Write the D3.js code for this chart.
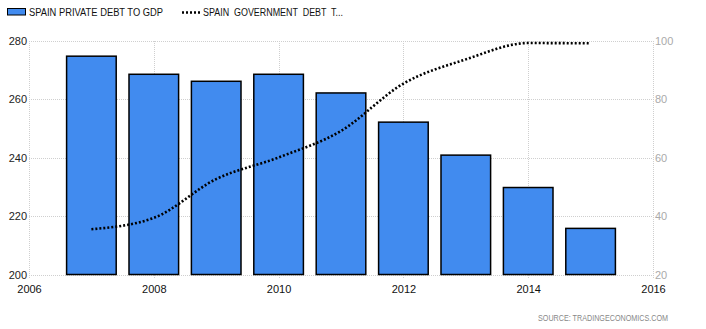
<!DOCTYPE html>
<html>
<head>
<meta charset="utf-8">
<script src="https://cdn.jsdelivr.net/npm/d3@7"></script>
<style>
  html, body { margin: 0; padding: 0; background: #fff; }
  svg { display: block; font-family: "Liberation Sans", Arial, sans-serif; }
</style>
</head>
<body>
<svg id="chart" width="706" height="329"></svg>
<script>
// Spain: private debt vs government debt, % of GDP
const years = [2007, 2008, 2009, 2010, 2011, 2012, 2013, 2014, 2015];
const privateDebt = [274.8, 268.6, 266.2, 268.6, 262.2, 252.2, 240.9, 229.8, 215.8];
const governmentDebt = [35.5, 39.4, 52.7, 60.1, 69.2, 85.4, 93.7, 99.3, 99.2];
const xTicks = [2006, 2008, 2010, 2012, 2014, 2016];
const leftTicks = [200, 220, 240, 260, 280];
const rightTicks = [20, 40, 60, 80, 100];
const legendLabels = ["SPAIN PRIVATE DEBT TO GDP", "SPAIN  GOVERNMENT  DEBT  T..."];
const sourceLabel = "SOURCE: TRADINGECONOMICS.COM";

const svg = d3.select("#chart");
const plot = { left: 29, right: 653, top: 41, bottom: 274.5 };

const x = d3.scaleLinear().domain([2006, 2016]).range([plot.left, plot.right]);
const yL = d3.scaleLinear().domain([200, 280]).range([plot.bottom, plot.top]);
const yR = d3.scaleLinear().domain([20, 100]).range([plot.bottom, plot.top]);

const grid = svg.append("g")
  .attr("stroke", "#cfcfcf").attr("stroke-width", 1).attr("stroke-dasharray", "1,1")
  .attr("shape-rendering", "crispEdges");
grid.selectAll("line.h").data(leftTicks).join("line")
  .attr("x1", plot.left).attr("x2", plot.right)
  .attr("y1", d => Math.round(yL(d)) + 0.5).attr("y2", d => Math.round(yL(d)) + 0.5);
grid.selectAll("line.v").data(xTicks).join("line")
  .attr("x1", d => Math.round(x(d)) + 0.5).attr("x2", d => Math.round(x(d)) + 0.5)
  .attr("y1", plot.top).attr("y2", plot.bottom + 3);

// Bars
const yearStep = x(2007) - x(2006);
const barW = yearStep * 0.795;
svg.append("g").selectAll("rect").data(years).join("rect")
  .attr("x", (d) => x(d) - barW / 2)
  .attr("width", barW)
  .attr("y", (d, i) => yL(privateDebt[i]))
  .attr("height", (d, i) => yL(200) - yL(privateDebt[i]))
  .attr("fill", "#418bef")
  .attr("stroke", "#000")
  .attr("stroke-width", 1.5);

// Government debt line (right axis)
const line = d3.line()
  .x((d, i) => x(years[i]))
  .y(d => yR(d))
  .curve(d3.curveMonotoneX);
svg.append("path")
  .datum(governmentDebt)
  .attr("d", line)
  .attr("fill", "none")
  .attr("stroke", "#000")
  .attr("stroke-width", 2.6)
  .attr("stroke-dasharray", "2,2");

// Axis labels
const leftAxis = d3.axisLeft(yL).tickValues(leftTicks).tickSize(0).tickPadding(0);
const gl = svg.append("g").attr("transform", `translate(${plot.left - 2},0)`).call(leftAxis);
gl.select(".domain").remove();
gl.selectAll("text").attr("font-size", 11).attr("fill", "#222")
  .attr("font-family", "'Liberation Sans', Arial, sans-serif");

const rightAxis = d3.axisRight(yR).tickValues(rightTicks).tickSize(0).tickPadding(0);
const gr = svg.append("g").attr("transform", `translate(${plot.right + 2},0)`).call(rightAxis);
gr.select(".domain").remove();
gr.selectAll("text").attr("font-size", 11).attr("fill", "#aaa")
  .attr("font-family", "'Liberation Sans', Arial, sans-serif");

const bottomAxis = d3.axisBottom(x).tickValues(xTicks).tickFormat(d3.format("d")).tickSize(0).tickPadding(0);
const gb = svg.append("g").attr("transform", `translate(0,${plot.bottom + 10.5})`).call(bottomAxis);
gb.select(".domain").remove();
gb.selectAll("text").attr("font-size", 11).attr("fill", "#111")
  .attr("font-family", "'Liberation Sans', Arial, sans-serif");

// Legend
const lg = svg.append("g");
lg.append("rect").attr("x", 7.5).attr("y", 8.5).attr("width", 18).attr("height", 6.5)
  .attr("fill", "#418bef").attr("stroke", "#000").attr("stroke-width", 1);
lg.append("text").attr("x", 29).attr("y", 16).attr("font-size", 10).attr("fill", "#111")
  .attr("textLength", 134).attr("lengthAdjust", "spacingAndGlyphs").text(legendLabels[0]);
lg.append("line").attr("x1", 182).attr("x2", 200).attr("y1", 12.5).attr("y2", 12.5)
  .attr("stroke", "#000").attr("stroke-width", 2.5).attr("stroke-dasharray", "2,2");
lg.append("text").attr("x", 203).attr("y", 16).attr("font-size", 10).attr("fill", "#111")
  .attr("xml:space", "preserve")
  .attr("textLength", 140).attr("lengthAdjust", "spacingAndGlyphs").text(legendLabels[1]);

// Source
svg.append("text").attr("x", 668).attr("y", 321).attr("text-anchor", "end")
  .attr("font-size", 8.5).attr("fill", "#888")
  .attr("textLength", 130).attr("lengthAdjust", "spacingAndGlyphs").text(sourceLabel);
</script>
</body>
</html>
